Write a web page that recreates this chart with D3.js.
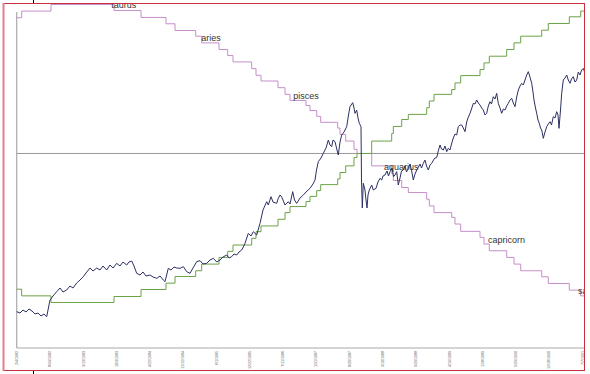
<!DOCTYPE html>
<meta charset="utf-8">
<style>
  body { margin: 0; background: #fff; }
  text { font-family: "Liberation Sans", Arial, sans-serif; }
</style>
<svg width="590" height="374"></svg>
<script src="https://d3js.org/d3.v7.min.js"></script>
<script>
// x = months since Jan 1982, dow = index level
var dowSeries = [
  [1.10, 821], [1.76, 809], [2.36, 836], [2.96, 818], [3.56, 845], [4.16, 827], [4.76, 800], [5.36, 809],
  [5.96, 782], [6.56, 800], [7.10, 776], [7.76, 926], [8.36, 962], [9.10, 1001], [9.76, 1034], [10.36, 998],
  [11.10, 1016], [11.76, 1052], [12.36, 1034], [13.10, 1079], [13.76, 1106], [14.42, 1136], [14.96, 1169],
  [15.76, 1214], [16.36, 1187], [17.10, 1214], [17.76, 1196], [18.36, 1232], [19.10, 1196], [19.76, 1241],
  [20.36, 1214], [21.10, 1256], [21.76, 1232], [22.36, 1268], [23.10, 1241], [23.56, 1268], [24.10, 1277],
  [24.56, 1232], [25.10, 1166], [25.76, 1151], [26.36, 1178], [26.96, 1142], [27.76, 1151], [28.36, 1133],
  [29.10, 1121], [29.76, 1142], [30.42, 1106], [30.76, 1091], [31.42, 1211], [31.96, 1196], [32.56, 1223],
  [33.10, 1214], [33.76, 1211], [34.42, 1226], [35.10, 1181], [35.76, 1166], [36.36, 1214], [37.10, 1271],
  [37.76, 1280], [38.36, 1250], [39.10, 1256], [39.76, 1286], [40.42, 1301], [41.10, 1268], [41.76, 1286],
  [42.36, 1313], [43.10, 1331], [43.56, 1304], [44.10, 1316], [44.56, 1340], [45.10, 1331], [45.56, 1358],
  [46.10, 1376], [46.42, 1403], [46.76, 1436], [47.42, 1526], [47.96, 1502], [48.42, 1541], [49.10, 1511],
  [49.76, 1616], [50.36, 1736], [51.10, 1811], [51.42, 1781], [51.96, 1856], [52.36, 1808], [53.10, 1796],
  [53.42, 1841], [53.76, 1871], [54.10, 1853], [54.36, 1826], [54.76, 1781], [55.42, 1811], [55.76, 1790],
  [56.30, 1901], [56.66, 1826], [57.10, 1796], [57.76, 1844], [58.42, 1871], [58.96, 1898], [59.76, 1931],
  [60.36, 1970], [60.76, 2006], [61.06, 2096], [61.42, 2171], [61.96, 2204], [62.42, 2246], [62.96, 2294],
  [63.42, 2366], [63.76, 2321], [64.10, 2306], [64.36, 2366], [64.76, 2351], [65.16, 2276], [65.42, 2231],
  [65.76, 2348], [66.10, 2411], [66.56, 2438], [67.10, 2486], [67.46, 2591], [67.76, 2666], [68.30, 2702],
  [68.56, 2654], [68.76, 2606], [69.10, 2636], [69.36, 2564], [69.62, 2516], [69.96, 2486], [70.06, 2006],
  [70.22, 1754], [70.42, 1976], [70.76, 1916], [70.96, 1826], [71.16, 1754], [71.36, 1871], [71.62, 1916],
  [72.10, 1961], [72.42, 1916], [72.96, 1931], [73.36, 1988], [73.76, 2021], [74.10, 2006], [74.36, 2042],
  [74.76, 2051], [75.16, 2087], [75.46, 2042], [75.76, 2081], [76.16, 2114], [76.46, 2036], [76.76, 2051],
  [77.10, 2081], [77.42, 1961], [77.76, 2024], [78.06, 2087], [78.42, 2096], [78.76, 2132], [79.06, 2078],
  [79.42, 2111], [79.76, 2150], [80.06, 2096], [80.42, 2006], [80.76, 2060], [81.10, 2096], [81.46, 2123],
  [81.76, 2150], [82.06, 2114], [82.42, 2156], [82.76, 2186], [83.06, 2132], [83.42, 2096], [83.76, 2141],
  [84.10, 2156], [84.46, 2186], [84.76, 2204], [85.10, 2208], [85.46, 2276], [85.76, 2321], [86.06, 2285],
  [86.42, 2276], [86.76, 2312], [87.10, 2261], [87.42, 2291], [87.76, 2276], [88.06, 2330], [88.42, 2384],
  [88.76, 2420], [89.10, 2411], [89.42, 2486], [89.76, 2501], [90.10, 2501], [90.42, 2474], [90.76, 2441],
  [91.10, 2528], [91.36, 2564], [91.76, 2606], [92.06, 2645], [92.42, 2696], [92.76, 2690], [93.10, 2726],
  [93.42, 2699], [93.76, 2681], [94.10, 2654], [94.42, 2636], [94.76, 2591], [95.10, 2606], [95.42, 2672],
  [95.76, 2711], [96.06, 2690], [96.42, 2756], [96.76, 2735], [97.10, 2786], [97.42, 2696], [97.76, 2654],
  [98.10, 2606], [98.42, 2645], [98.76, 2636], [99.10, 2672], [99.42, 2696], [99.76, 2726], [100.10, 2741],
  [100.42, 2699], [100.76, 2666], [101.10, 2753], [101.42, 2816], [101.76, 2852], [102.10, 2876], [102.42, 2861],
  [102.76, 2906], [103.10, 2951], [103.42, 2981], [103.76, 2933], [104.10, 2876], [104.36, 2798], [104.56, 2726],
  [104.86, 2654], [105.10, 2606], [105.36, 2546], [105.62, 2516], [105.86, 2474], [106.10, 2456], [106.26, 2420],
  [106.42, 2381], [106.76, 2438], [107.10, 2486], [107.42, 2510], [107.76, 2531], [108.06, 2501], [108.42, 2576],
  [108.76, 2564], [109.10, 2621], [109.36, 2591], [109.56, 2471], [109.86, 2636], [110.10, 2786], [110.42, 2906],
  [110.76, 2924], [111.10, 2951], [111.42, 2906], [111.76, 2876], [112.06, 2915], [112.42, 2936], [112.76, 2888],
  [113.10, 2906], [113.42, 2978], [113.76, 2951], [114.10, 2996], [114.42, 3011], [114.76, 2966]
];

// step series (degrees), north above zero line, south mirrored
var nodeMonths = [1.10, 2.10, 7.96, 20.56, 25.96, 30.96, 32.76, 36.90, 38.10, 41.56, 43.30, 44.36, 48.10, 48.96,
  49.96, 53.36, 54.76, 55.76, 58.96, 59.76, 61.10, 61.90, 65.30, 65.76, 66.90, 68.56, 69.16, 72.10, 76.10, 76.42,
  78.10, 79.42, 83.10, 83.62, 84.56, 88.10, 88.76, 89.90, 93.76, 94.56, 95.62, 99.10, 100.56, 101.90, 106.10,
  107.42, 111.62, 113.90, 114.76];
var northDecl = [21.35, 22.4, 23.44, 22.5, 21.4, 20.4, 19.35, 18.45, 17.4, 16.35, 15.4, 14.4, 13.35, 12.3,
  11.4, 10.35, 9.3, 8.35, 7.55, 6.75, 5.85, 4.9, 4.0, 3.0, 1.95, 0.65, 0, -1.95, -3.15, -4.25,
  -5.35, -6.15, -7.2, -8.25, -9.3, -10.05, -11.1, -12.25, -13.2, -14.25, -15.3, -16.35, -17.4, -18.45, -19.4,
  -20.45, -21.5, -22.4, -22.4];
var southDecl = [-21.35, -22.4, -23.44, -22.5, -21.4, -20.4, -19.35, -18.45, -17.4, -16.35, -15.4, -14.4, -13.35, -12.3,
  -11.4, -10.35, -9.3, -8.35, -7.55, -6.75, -5.85, -4.9, -4.0, -3.0, -1.95, -0.65, 0, 1.95, 3.15, 4.25,
  5.35, 6.15, 7.2, 8.25, 9.3, 10.05, 11.1, 12.25, 13.2, 14.25, 15.3, 16.35, 17.4, 18.45, 19.4,
  20.45, 21.5, 22.4, 22.4];

var signNames = ["taurus", "aries", "pisces", "aquarius", "capricorn", "sagittarius"];
var signMonths = [20.0, 38.0, 56.4, 74.56, 95.36, 113.36];
var signDecl = [23.36, 18.17, 9.04, -2.12, -13.6, -21.63];

var tickMonths = [1.1, 7.75, 14.41, 21.06, 27.72, 34.37, 41.02, 47.68, 54.33, 60.99, 67.64, 74.29, 80.95,
  87.6, 94.26, 100.91, 107.56, 114.22];
var tickLabels = ["2/4/1982", "8/24/1982", "3/13/1983", "10/3/1983", "4/22/1984", "11/12/1984", "6/1/1985",
  "12/22/1985", "7/11/1986", "1/31/1987", "8/20/1987", "3/10/1988", "9/29/1988", "4/19/1989", "11/8/1989",
  "5/29/1990", "12/18/1990", "7/7/1991"];

var svg = d3.select('svg')
var x = d3.scaleLinear().domain([1.1, 114.76]).range([16.7, 585])
var yDow = d3.scaleLinear().domain([494, 3599]).range([348, 3])
var yNode = d3.scaleLinear().domain([-30.6, 23.67]).range([348, 3])

svg.append('clipPath').attr('id', 'clip')
  .append('rect').attr('x', 3).attr('y', 3).attr('width', 582).attr('height', 368)

var plot = svg.append('g').attr('clip-path', 'url(#clip)')

// axes lines
plot.append('line')
  .attr('x1', x(1.1)).attr('x2', x(1.1)).attr('y1', 12).attr('y2', yDow(494))
  .attr('stroke', '#aaa').attr('stroke-width', 1.2)
plot.append('line')
  .attr('x1', x(1.1)).attr('x2', 585).attr('y1', yDow(494)).attr('y2', yDow(494))
  .attr('stroke', '#aaa').attr('stroke-width', 1.2)
plot.append('line')
  .attr('x1', x(1.1)).attr('x2', 585).attr('y1', yNode(0)).attr('y2', yNode(0))
  .attr('stroke', '#999').attr('stroke-width', 1)

var stepLine = d3.line()
  .x(function (d) { return x(d[0]) })
  .y(function (d) { return yNode(d[1]) })
  .curve(d3.curveStepAfter)

var north = nodeMonths.map(function (m, i) { return [m, northDecl[i]] })
var south = nodeMonths.map(function (m, i) { return [m, southDecl[i]] })

plot.append('path').datum(north)
  .attr('d', stepLine).attr('fill', 'none').attr('stroke', '#c58ec8').attr('stroke-width', 1)
plot.append('path').datum(south)
  .attr('d', stepLine).attr('fill', 'none').attr('stroke', '#6aa246').attr('stroke-width', 1)

var dowLine = d3.line()
  .x(function (d) { return x(d[0]) })
  .y(function (d) { return yDow(d[1]) })

plot.append('path').datum(dowSeries)
  .attr('d', dowLine).attr('fill', 'none').attr('stroke', '#2c3064').attr('stroke-width', 1)

plot.selectAll('text.sign')
  .data(signNames)
  .enter().append('text')
    .attr('class', 'sign')
    .attr('x', function (d, i) { return x(signMonths[i]) })
    .attr('y', function (d, i) { return yNode(signDecl[i]) })
    .attr('dy', '0.35em')
    .attr('font-size', 9)
    .attr('fill', '#333')
    .text(function (d) { return d })

// rotated date ticks
svg.selectAll('text.tick')
  .data(tickLabels)
  .enter().append('text')
    .attr('class', 'tick')
    .attr('transform', function (d, i) { return 'translate(' + (x(tickMonths[i]) + 1.3) + ',351) rotate(-90)' })
    .attr('text-anchor', 'end')
    .attr('font-size', 3.6)
    .attr('fill', '#555')
    .text(function (d) { return d })

// frame
svg.append('rect')
  .attr('x', 3.5).attr('y', 3.5).attr('width', 581).attr('height', 367)
  .attr('fill', 'none').attr('stroke', '#c8303e').attr('stroke-width', 1)
svg.append('line')
  .attr('x1', 3.5).attr('x2', 3.5).attr('y1', 3).attr('y2', 371)
  .attr('stroke', '#e0808e').attr('stroke-width', 2)
svg.append('line')
  .attr('x1', 33.5).attr('x2', 33.5).attr('y1', 0).attr('y2', 3)
  .attr('stroke', '#000').attr('stroke-width', 1)
svg.append('line')
  .attr('x1', 33.5).attr('x2', 33.5).attr('y1', 371).attr('y2', 374)
  .attr('stroke', '#000').attr('stroke-width', 1)
</script>
